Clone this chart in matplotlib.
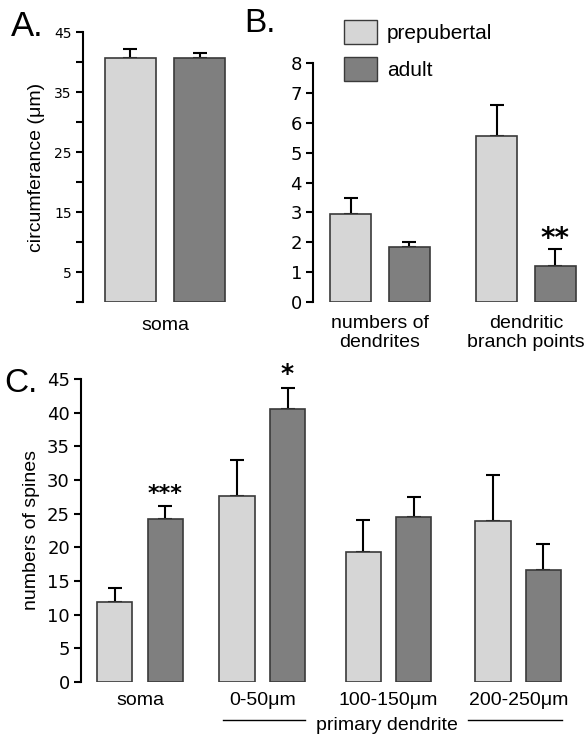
import matplotlib.pyplot as plt
from matplotlib.patches import Patch
import numpy as np

# ---- data ----
a_groups = ['soma']
a_pre = [40.7]
a_pre_err = [1.5]
a_adult = [40.6]
a_adult_err = [0.9]

b_groups = ['numbers of\ndendrites', 'dendritic\nbranch points']
b_pre = [2.93, 5.55]
b_pre_err = [0.55, 1.05]
b_adult = [1.83, 1.22]
b_adult_err = [0.18, 0.55]
b_stars = ['', '**']

c_groups = ['soma', '0-50μm', '100-150μm', '200-250μm']
c_pre = [11.9, 27.6, 19.3, 23.9]
c_pre_err = [2.1, 5.4, 4.7, 6.9]
c_adult = [24.2, 40.5, 24.5, 16.7]
c_adult_err = [1.9, 3.1, 3.0, 3.8]
c_stars = ['***', '*', '', '']

light = '#d6d6d6'
dark = '#7f7f7f'
edge = '#3a3a3a'
W, H = 586, 740
lab = 'Liberation Sans'

plt.rcParams['font.family'] = 'DejaVu Sans'
fig = plt.figure(figsize=(W / 100, H / 100), dpi=100)


def px_axes(left, top, right, bottom):
    return fig.add_axes([left / W, 1 - bottom / H, (right - left) / W, (bottom - top) / H])


def bars(ax, x, pre, pre_err, adult, adult_err, width=0.28, off=0.2):
    for xs, v, e, col in [(x - off, pre, pre_err, light), (x + off, adult, adult_err, dark)]:
        ax.bar(xs, v, width, color=col, edgecolor=edge, linewidth=1.2, zorder=2)
        ax.errorbar(xs, v, yerr=[np.zeros(len(v)), e], fmt='none', ecolor='black',
                    elinewidth=1.5, capsize=5, capthick=1.5, zorder=1)


def style(ax, fs, xpad):
    for s in ['top', 'right', 'bottom']:
        ax.spines[s].set_visible(False)
    ax.spines['left'].set_linewidth(1.5)
    ax.tick_params(axis='y', direction='out', length=5, width=1.5, labelsize=fs, pad=3)
    ax.tick_params(axis='x', length=0, pad=xpad)


# ---- panel A ----
axA = px_axes(83, 32, 240, 302)
xa = np.arange(len(a_groups))
bars(axA, xa, a_pre, a_pre_err, a_adult, a_adult_err, width=0.293, off=0.2)
axA.set_xlim(-0.471, 0.431)
axA.set_ylim(0, 45)
axA.set_yticks(np.arange(0, 46, 5))
axA.set_yticklabels(['' if t % 10 == 0 else str(t) for t in range(0, 46, 5)])
axA.set_xticks(xa)
axA.set_xticklabels(a_groups, fontsize=14, family=lab)
style(axA, 10, 11)
axA.set_ylabel('circumferance (μm)', fontsize=14, family=lab, labelpad=7)
fig.text(11 / W, 1 - 26 / H, 'A.', fontsize=25, va='center', ha='left', family=lab)

# ---- panel B ----
axB = px_axes(313, 63, 581, 302)
xb = np.arange(len(b_groups))
bars(axB, xb, b_pre, b_pre_err, b_adult, b_adult_err)
axB.set_xlim(-0.459, 1.377)
axB.set_ylim(0, 8)
axB.set_yticks(range(0, 9))
axB.set_xticks(xb)
axB.set_xticklabels(b_groups, fontsize=14, family=lab, linespacing=1.2)
style(axB, 13, 9)
for i, s in enumerate(b_stars):
    if s:
        axB.text(xb[i] + 0.2, b_adult[i] + b_adult_err[i] - 0.12, s, ha='center',
                 va='bottom', fontsize=20, fontweight='bold')
fig.text(244 / W, 1 - 23 / H, 'B.', fontsize=24, va='center', ha='left', family=lab)
handles = [Patch(facecolor=light, edgecolor=edge, label='prepubertal'),
           Patch(facecolor=dark, edgecolor=edge, label='adult')]
fig.legend(handles=handles, loc='upper left', bbox_to_anchor=(344 / W, 1 - 20 / H),
           frameon=False, prop={'family': lab, 'size': 15}, handlelength=1.59,
           handleheight=1.4, handletextpad=0.48, labelspacing=0.62, borderpad=0,
           borderaxespad=0)

# ---- panel C ----
axC = px_axes(81, 379, 575, 682)
xc = np.array([0, 0.97, 1.97, 3.0])
bars(axC, xc, c_pre, c_pre_err, c_adult, c_adult_err)
axC.set_xlim(-0.468, 3.45)
axC.set_ylim(0, 45)
axC.set_yticks(range(0, 46, 5))
axC.set_xticks(xc)
axC.set_xticklabels(c_groups, fontsize=14, family=lab)
style(axC, 13, 7)
axC.set_ylabel('numbers of spines', fontsize=14, family=lab, labelpad=5)
for i, s in enumerate(c_stars):
    if s:
        axC.text(xc[i] + 0.2, c_adult[i] + c_adult_err[i] + 0.3, s, ha='center',
                 va='bottom', fontsize=18 if len(s) == 1 else 16, fontweight='bold')
fig.text(4 / W, 1 - 383 / H, 'C.', fontsize=24, va='center', ha='left', family=lab)

# bracket line under the primary dendrite groups
tr = axC.get_xaxis_transform()
yb = -0.125
axC.plot([0.66, 1.31], [yb, yb], color='black', lw=1.0, transform=tr, clip_on=False)
axC.plot([2.6, 3.35], [yb, yb], color='black', lw=1.0, transform=tr, clip_on=False)
axC.text(1.96, -0.158, 'primary dendrite', transform=tr, ha='center', va='baseline',
         fontsize=14, family=lab)

fig.savefig('out.png', dpi=100)
